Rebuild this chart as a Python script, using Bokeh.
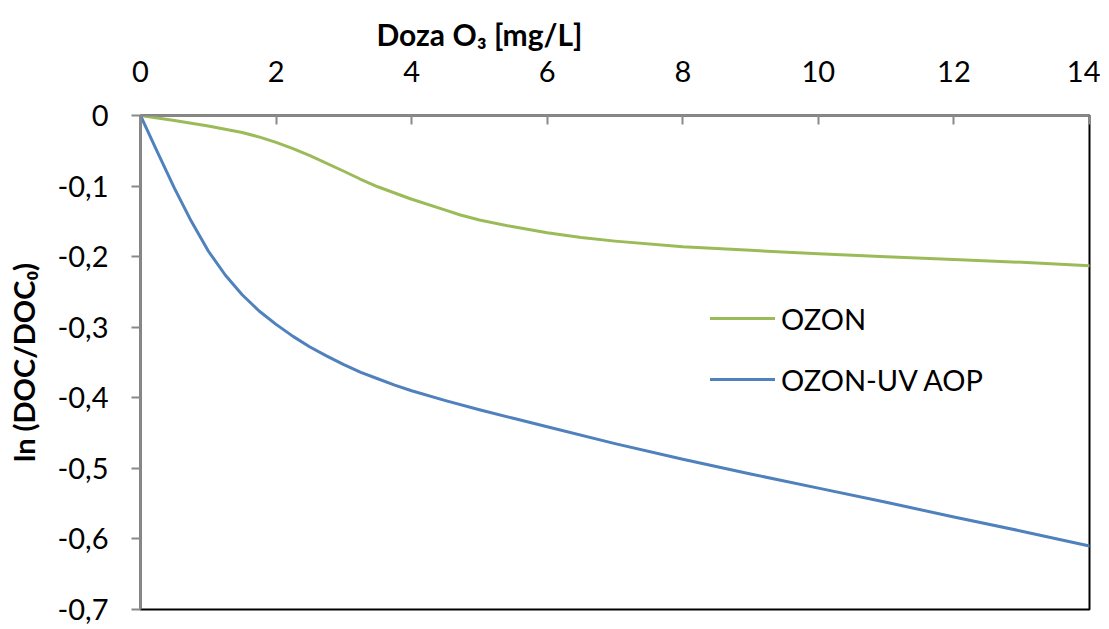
from bokeh.plotting import figure
from bokeh.models import Range1d, FixedTicker, Legend, LegendItem, Title
from bokeh.embed import file_html
from bokeh.resources import INLINE

# Data
dose_ozon = [0, 0.5, 1, 1.5, 1.77, 2, 2.25, 2.5, 3, 3.24, 3.5, 3.98, 4.5, 4.72, 5, 5.46,
             6, 6.5, 7, 8, 9, 10, 11, 12, 13, 14]
ozon = [0, -0.007, -0.015, -0.024, -0.031, -0.038, -0.047, -0.057, -0.079, -0.090,
        -0.101, -0.118, -0.134, -0.141, -0.148, -0.157, -0.166, -0.173, -0.178,
        -0.186, -0.191, -0.196, -0.200, -0.204, -0.208, -0.213]

dose_uv = [0, 0.25, 0.5, 0.75, 1, 1.25, 1.5, 1.75, 2, 2.25, 2.5, 2.75, 3, 3.25, 3.5,
           3.75, 4, 4.5, 5, 5.5, 6, 7, 8, 9, 10, 11, 12, 13, 14]
ozon_uv = [0, -0.052, -0.103, -0.150, -0.192, -0.226, -0.254, -0.277, -0.296, -0.313,
           -0.328, -0.341, -0.353, -0.364, -0.373, -0.382, -0.390, -0.404, -0.417,
           -0.429, -0.441, -0.465, -0.487, -0.508, -0.528, -0.548, -0.569, -0.589,
           -0.610]

xtick_values = [0, 2, 4, 6, 8, 10, 12, 14]
ytick_values = [0, -0.1, -0.2, -0.3, -0.4, -0.5, -0.6, -0.7]
ytick_labels = ["0", "-0,1", "-0,2", "-0,3", "-0,4", "-0,5", "-0,6", "-0,7"]

series_names = ["OZON", "OZON-UV AOP"]
series_colors = ["#9BBB59", "#4F81BD"]

x_title = "Doza O\u2083 [mg/L]"
y_title = "ln (DOC/DOC\u2080)"

FONT = "Lato"
AXIS_GRAY = "#898989"

p = figure(width=1100, height=628, output_backend="svg", toolbar_location=None,
           x_axis_location="above", y_axis_location="left",
           x_range=Range1d(0, 14), y_range=Range1d(-0.7, 0),
           min_border_left=140, min_border_top=115,
           min_border_right=11, min_border_bottom=19)

p.xgrid.visible = False
p.ygrid.visible = False
p.background_fill_color = "white"
p.border_fill_color = "white"
p.outline_line_color = "black"
p.outline_line_width = 2

r1 = p.line(dose_ozon, ozon, line_color=series_colors[0], line_width=3,
            line_join="round", line_cap="round")
r2 = p.line(dose_uv, ozon_uv, line_color=series_colors[1], line_width=3,
            line_join="round", line_cap="round")

xa = p.xaxis[0]
xa.ticker = FixedTicker(ticks=xtick_values)
xa.minor_tick_line_color = None
xa.major_tick_in = 9
xa.major_tick_out = 0
xa.axis_line_color = AXIS_GRAY
xa.axis_line_width = 2
xa.major_tick_line_color = AXIS_GRAY
xa.major_tick_line_width = 2
xa.major_label_text_font = FONT
xa.major_label_text_font_size = "29px"
xa.major_label_text_color = "black"
xa.major_label_standoff = 34

# top axis title, placed left of centre as in the reference
title = Title(text=x_title, align="left", offset=236,
              text_font=FONT, text_font_style="bold", text_font_size="30px",
              text_color="black", standoff=12)
p.add_layout(title, "above")

ya = p.yaxis[0]
ya.ticker = FixedTicker(ticks=ytick_values)
ya.major_label_overrides = dict(zip(ytick_values, ytick_labels))
ya.minor_tick_line_color = None
ya.major_tick_in = 0
ya.major_tick_out = 9
ya.axis_line_color = AXIS_GRAY
ya.axis_line_width = 2
ya.major_tick_line_color = AXIS_GRAY
ya.major_tick_line_width = 2
ya.major_label_text_font = FONT
ya.major_label_text_font_size = "29px"
ya.major_label_text_color = "black"
ya.major_label_standoff = 23
ya.axis_label = y_title
ya.axis_label_text_font = FONT
ya.axis_label_text_font_style = "bold"
ya.axis_label_text_font_size = "29px"
ya.axis_label_text_color = "black"
ya.axis_label_standoff = 14

legend = Legend(items=[LegendItem(label=series_names[0], renderers=[r1]),
                       LegendItem(label=series_names[1], renderers=[r2])],
                location=(570, 210))
legend.background_fill_alpha = 0
legend.border_line_color = None
legend.padding = 0
legend.margin = 0
legend.glyph_width = 65
legend.glyph_height = 40
legend.label_height = 40
legend.spacing = 21
legend.label_standoff = 6
legend.label_text_font = FONT
legend.label_text_font_size = "29px"
legend.label_text_color = "black"
p.add_layout(legend, "center")

open("out.html", "w").write(file_html(p, INLINE))
